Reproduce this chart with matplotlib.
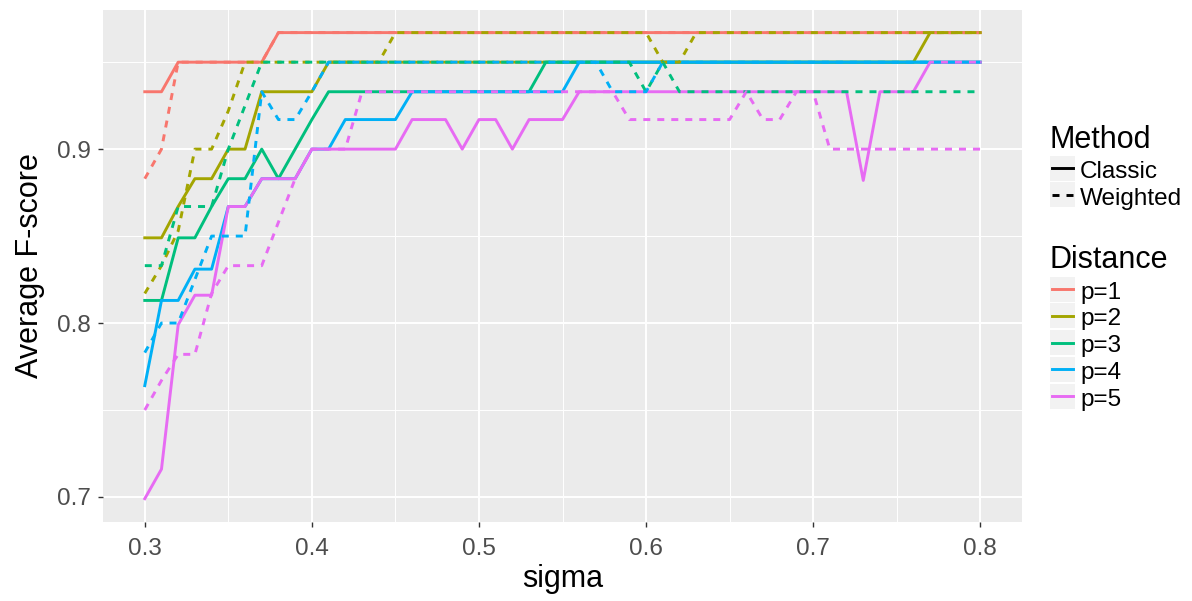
import matplotlib
matplotlib.use("Agg")
import matplotlib.pyplot as plt
from matplotlib.lines import Line2D
from matplotlib.patches import Rectangle
from matplotlib.ticker import FixedLocator

plt.rcParams['font.family'] = ['Liberation Sans', 'DejaVu Sans']

sigma = [0.30, 0.31, 0.32, 0.33, 0.34, 0.35, 0.36, 0.37, 0.38, 0.39,
         0.40, 0.41, 0.42, 0.43, 0.44, 0.45, 0.46, 0.47, 0.48, 0.49,
         0.50, 0.51, 0.52, 0.53, 0.54, 0.55, 0.56, 0.57, 0.58, 0.59,
         0.60, 0.61, 0.62, 0.63, 0.64, 0.65, 0.66, 0.67, 0.68, 0.69,
         0.70, 0.71, 0.72, 0.73, 0.74, 0.75, 0.76, 0.77, 0.78, 0.79,
         0.80]

# average F-score per sigma, classic and weighted method, for p = 1..5
p1_classic = [0.933, 0.933, 0.95, 0.95, 0.95, 0.95, 0.95, 0.95, 0.967, 0.967,
              0.967, 0.967, 0.967, 0.967, 0.967, 0.967, 0.967, 0.967, 0.967, 0.967,
              0.967, 0.967, 0.967, 0.967, 0.967, 0.967, 0.967, 0.967, 0.967, 0.967,
              0.967, 0.967, 0.967, 0.967, 0.967, 0.967, 0.967, 0.967, 0.967, 0.967,
              0.967, 0.967, 0.967, 0.967, 0.967, 0.967, 0.967, 0.967, 0.967, 0.967,
              0.967]
p1_weighted = [0.883, 0.9, 0.95, 0.95, 0.95, 0.95, 0.95, 0.95, 0.967, 0.967,
               0.967, 0.967, 0.967, 0.967, 0.967, 0.967, 0.967, 0.967, 0.967, 0.967,
               0.967, 0.967, 0.967, 0.967, 0.967, 0.967, 0.967, 0.967, 0.967, 0.967,
               0.967, 0.967, 0.967, 0.967, 0.967, 0.967, 0.967, 0.967, 0.967, 0.967,
               0.967, 0.967, 0.967, 0.967, 0.967, 0.967, 0.967, 0.967, 0.967, 0.967,
               0.967]
p2_classic = [0.849, 0.849, 0.867, 0.883, 0.883, 0.9, 0.9, 0.933, 0.933, 0.933,
              0.933, 0.95, 0.95, 0.95, 0.95, 0.95, 0.95, 0.95, 0.95, 0.95,
              0.95, 0.95, 0.95, 0.95, 0.95, 0.95, 0.95, 0.95, 0.95, 0.95,
              0.95, 0.95, 0.95, 0.95, 0.95, 0.95, 0.95, 0.95, 0.95, 0.95,
              0.95, 0.95, 0.95, 0.95, 0.95, 0.95, 0.95, 0.967, 0.967, 0.967,
              0.967]
p2_weighted = [0.817, 0.833, 0.853, 0.9, 0.9, 0.922, 0.95, 0.95, 0.95, 0.95,
               0.95, 0.95, 0.95, 0.95, 0.95, 0.967, 0.967, 0.967, 0.967, 0.967,
               0.967, 0.967, 0.967, 0.967, 0.967, 0.967, 0.967, 0.967, 0.967, 0.967,
               0.967, 0.95, 0.95, 0.967, 0.967, 0.967, 0.967, 0.967, 0.967, 0.967,
               0.967, 0.967, 0.967, 0.967, 0.967, 0.967, 0.967, 0.967, 0.967, 0.967,
               0.967]
p3_classic = [0.813, 0.813, 0.849, 0.849, 0.867, 0.883, 0.883, 0.9, 0.883, 0.9,
              0.917, 0.933, 0.933, 0.933, 0.933, 0.933, 0.933, 0.933, 0.933, 0.933,
              0.933, 0.933, 0.933, 0.933, 0.95, 0.95, 0.95, 0.95, 0.95, 0.95,
              0.95, 0.95, 0.95, 0.95, 0.95, 0.95, 0.95, 0.95, 0.95, 0.95,
              0.95, 0.95, 0.95, 0.95, 0.95, 0.95, 0.95, 0.95, 0.95, 0.95,
              0.95]
p3_weighted = [0.833, 0.833, 0.867, 0.867, 0.867, 0.9, 0.925, 0.95, 0.95, 0.95,
               0.95, 0.95, 0.95, 0.95, 0.95, 0.95, 0.95, 0.95, 0.95, 0.95,
               0.95, 0.95, 0.95, 0.95, 0.95, 0.95, 0.95, 0.95, 0.95, 0.95,
               0.933, 0.95, 0.933, 0.933, 0.933, 0.933, 0.933, 0.933, 0.933, 0.933,
               0.933, 0.933, 0.933, 0.933, 0.933, 0.933, 0.933, 0.933, 0.933, 0.933,
               0.933]
p4_classic = [0.764, 0.813, 0.813, 0.831, 0.831, 0.867, 0.867, 0.883, 0.883, 0.883,
              0.9, 0.9, 0.917, 0.917, 0.917, 0.917, 0.933, 0.933, 0.933, 0.933,
              0.933, 0.933, 0.933, 0.933, 0.933, 0.933, 0.95, 0.95, 0.95, 0.95,
              0.95, 0.95, 0.95, 0.95, 0.95, 0.95, 0.95, 0.95, 0.95, 0.95,
              0.95, 0.95, 0.95, 0.95, 0.95, 0.95, 0.95, 0.95, 0.95, 0.95,
              0.95]
p4_weighted = [0.783, 0.8, 0.8, 0.825, 0.85, 0.85, 0.85, 0.933, 0.917, 0.917,
               0.933, 0.95, 0.95, 0.95, 0.95, 0.95, 0.95, 0.95, 0.95, 0.95,
               0.95, 0.95, 0.95, 0.95, 0.95, 0.95, 0.95, 0.95, 0.933, 0.933,
               0.933, 0.95, 0.95, 0.95, 0.95, 0.95, 0.95, 0.95, 0.95, 0.95,
               0.95, 0.95, 0.95, 0.95, 0.95, 0.95, 0.95, 0.95, 0.95, 0.95,
               0.95]
p5_classic = [0.699, 0.716, 0.799, 0.816, 0.816, 0.867, 0.867, 0.883, 0.883, 0.883,
              0.9, 0.9, 0.9, 0.9, 0.9, 0.9, 0.917, 0.917, 0.917, 0.9,
              0.917, 0.917, 0.9, 0.917, 0.917, 0.917, 0.933, 0.933, 0.933, 0.933,
              0.933, 0.933, 0.933, 0.933, 0.933, 0.933, 0.933, 0.933, 0.933, 0.933,
              0.933, 0.933, 0.933, 0.882, 0.933, 0.933, 0.933, 0.95, 0.95, 0.95,
              0.95]
p5_weighted = [0.75, 0.767, 0.782, 0.782, 0.817, 0.833, 0.833, 0.833, 0.858, 0.883,
               0.9, 0.9, 0.9, 0.933, 0.933, 0.933, 0.933, 0.933, 0.933, 0.933,
               0.933, 0.933, 0.933, 0.933, 0.933, 0.933, 0.933, 0.933, 0.933, 0.917,
               0.917, 0.917, 0.917, 0.917, 0.917, 0.917, 0.933, 0.917, 0.917, 0.933,
               0.933, 0.9, 0.9, 0.9, 0.9, 0.9, 0.9, 0.9, 0.9, 0.9,
               0.9]

distances = ["p=1", "p=2", "p=3", "p=4", "p=5"]
methods = ["Classic", "Weighted"]
colors = ["#F8766D", "#A3A500", "#00BF7D", "#00B0F6", "#E76BF3"]
classic = [p1_classic, p2_classic, p3_classic, p4_classic, p5_classic]
weighted = [p1_weighted, p2_weighted, p3_weighted, p4_weighted, p5_weighted]

W, H = 1192, 601
fig = plt.figure(figsize=(W / 100, H / 100), dpi=100)
fig.patch.set_facecolor("white")

# panel in pixel units: left 103, right 1022, top 10, bottom 522
ax = fig.add_axes([103 / W, 1 - 522 / H, 919 / W, 512 / H])
ax.set_facecolor("#EBEBEB")
for s in ax.spines.values():
    s.set_visible(False)

ax.set_xlim(0.275, 0.825)
ax.set_ylim(0.6856, 0.980)
ax.xaxis.set_major_locator(FixedLocator([0.3, 0.4, 0.5, 0.6, 0.7, 0.8]))
ax.xaxis.set_minor_locator(FixedLocator([0.35, 0.45, 0.55, 0.65, 0.75]))
ax.yaxis.set_major_locator(FixedLocator([0.7, 0.8, 0.9]))
ax.yaxis.set_minor_locator(FixedLocator([0.75, 0.85, 0.95]))
ax.set_xticklabels(["0.3", "0.4", "0.5", "0.6", "0.7", "0.8"])
ax.set_yticklabels(["0.7", "0.8", "0.9"])
ax.grid(which="major", color="white", lw=1.4)
ax.grid(which="minor", color="white", lw=0.7)
ax.set_axisbelow(True)
ax.tick_params(which="major", length=3.5, width=1.0, color="#333333",
               labelsize=17.5, labelcolor="#4D4D4D")
ax.tick_params(axis="x", which="major", pad=8)
ax.tick_params(axis="y", which="major", pad=5)
ax.tick_params(which="minor", length=0)

lw = 2.1
dash = (2.4, 2.4)
for vals, c in zip(classic, colors):
    ax.plot(sigma, vals, color=c, lw=lw)
for vals, c in zip(weighted, colors):
    ax.plot(sigma, vals, color=c, lw=lw, linestyle=(0, dash))

ax.set_xlabel("sigma", fontsize=22, labelpad=3)
ax.set_ylabel("Average F-score", fontsize=22, labelpad=9)


def fx(px):
    return px / W


def fy(py):
    return 1 - py / H


# legends, laid out in pixel positions to the right of the panel
def key(y_mid, color, style):
    fig.add_artist(Rectangle((fx(1050), fy(y_mid + 12.5)), 25 / W, 25 / H,
                             transform=fig.transFigure, facecolor="#F2F2F2",
                             edgecolor="none"))
    fig.add_artist(Line2D([fx(1052), fx(1073)], [fy(y_mid), fy(y_mid)],
                          transform=fig.transFigure, color=color, lw=lw,
                          linestyle=style))


fig.text(fx(1049), fy(148), "Method", fontsize=22, va="baseline", ha="left")
for i, m in enumerate(methods):
    y = 168 + 26.7 * i
    key(y, "black", "-" if m == "Classic" else (0, dash))
    fig.text(fx(1080), fy(y + 10), m, fontsize=17.5, va="baseline", ha="left")

fig.text(fx(1049), fy(268), "Distance", fontsize=22, va="baseline", ha="left")
for i, (d, c) in enumerate(zip(distances, colors)):
    y = 289 + 26.8 * i
    key(y, c, "-")
    fig.text(fx(1080), fy(y + 9.5), d, fontsize=17.5, va="baseline", ha="left")

fig.savefig("out.png", dpi=100)
